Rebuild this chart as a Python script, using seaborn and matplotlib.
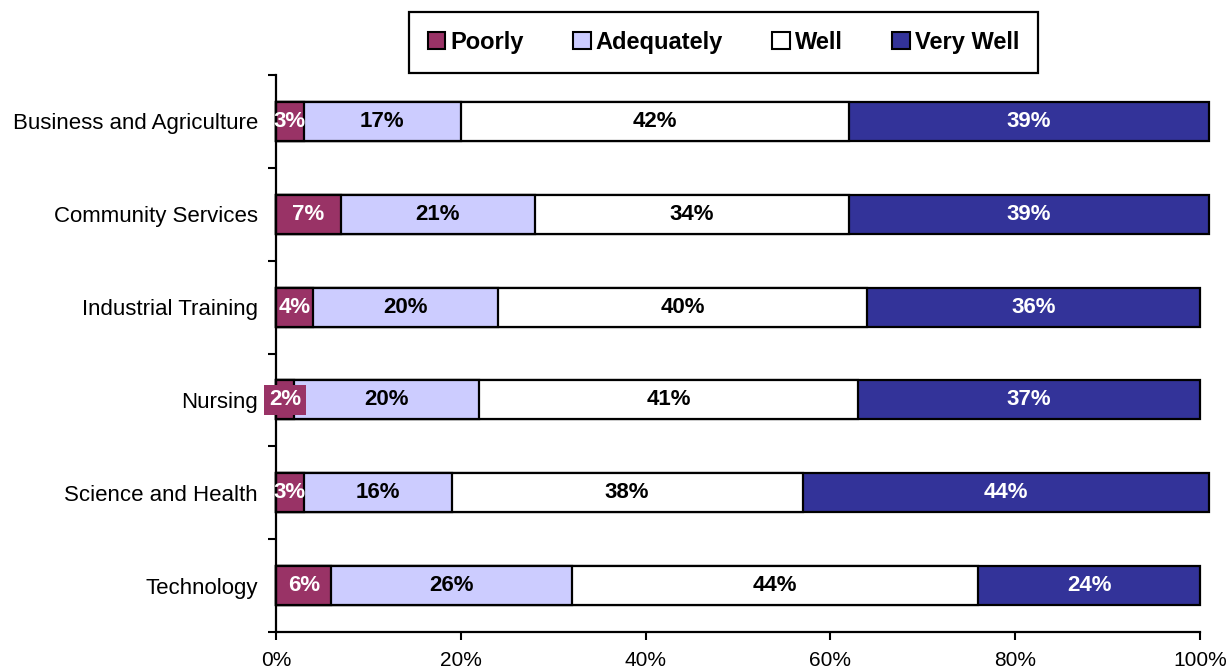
import numpy as np
import pandas as pd
import seaborn as sns
import matplotlib.pyplot as plt
from matplotlib.patches import Patch

sns.set_style("white")
plt.rcParams['font.family'] = ['Liberation Sans', 'DejaVu Sans']
plt.rcParams['text.color'] = 'black'
plt.rcParams['xtick.color'] = 'black'
plt.rcParams['ytick.color'] = 'black'
plt.rcParams['axes.labelcolor'] = 'black'

programs = ['Business and Agriculture', 'Community Services', 'Industrial Training',
            'Nursing', 'Science and Health', 'Technology']
poorly = [3, 7, 4, 2, 3, 6]
adequately = [17, 21, 20, 20, 16, 26]
well = [42, 34, 40, 41, 38, 44]
very_well = [39, 39, 36, 37, 44, 24]

ratings = ['Poorly', 'Adequately', 'Well', 'Very Well']
colors = {'Poorly': '#993366', 'Adequately': '#CCCCFF', 'Well': '#FFFFFF', 'Very Well': '#333399'}
text_colors = {'Poorly': 'white', 'Adequately': 'black', 'Well': 'black', 'Very Well': 'white'}

df = pd.DataFrame({'Program': programs, 'Poorly': poorly, 'Adequately': adequately,
                   'Well': well, 'Very Well': very_well})
cum = df[ratings].cumsum(axis=1)

fig = plt.figure(figsize=(12.31, 6.71), dpi=100)
ax = fig.add_axes([0.2242, 0.0581, 0.7506, 0.8301])

# stacked bars: draw running totals from the longest down, each over the last
for r in reversed(ratings):
    sns.barplot(x=cum[r], y=df['Program'], orient='h', color=colors[r], saturation=1,
                edgecolor='black', linewidth=1.6, width=0.42, ax=ax)
for p in ax.patches:
    p.set_clip_on(False)

# segment labels
for i, prog in enumerate(programs):
    left = 0
    for r in ratings:
        v = df.loc[i, r]
        kw = {}
        if prog == 'Nursing' and r == 'Poorly':
            kw['bbox'] = dict(facecolor=colors[r], edgecolor='none', pad=3.5)
        ax.text(left + v / 2, i, f'{v}%', ha='center', va='center', fontsize=16,
                fontweight='bold', color=text_colors[r], **kw)
        left += v

ax.set_xlim(0, 100)
ax.set_xticks(np.arange(0, 101, 20))
ax.set_xticklabels([f'{t}%' for t in range(0, 101, 20)])
ax.set_yticks(np.arange(-0.5, len(programs), 1), minor=True)
ax.tick_params(axis='y', which='major', length=0, pad=13, labelsize=16)
ax.tick_params(axis='y', which='minor', length=6, width=1.5, color='black', direction='out', left=True)
ax.tick_params(axis='x', which='major', length=6, width=1.5, color='black', direction='out',
               bottom=True, pad=8, labelsize=15)
ax.set_xlabel('')
ax.set_ylabel('')

for s in ['top', 'right']:
    ax.spines[s].set_visible(False)
for s in ['left', 'bottom']:
    ax.spines[s].set_color('black')
    ax.spines[s].set_linewidth(1.6)

handles = [Patch(facecolor=colors[r], edgecolor='black', linewidth=1.5) for r in ratings]
leg = fig.legend(handles, ratings, loc='center', bbox_to_anchor=(0.5877, 0.9367), ncol=4,
                 frameon=True, fancybox=False, edgecolor='black', framealpha=1,
                 prop={'weight': 'bold', 'size': 17}, handlelength=0.75, handleheight=0.75,
                 handletextpad=0.2, columnspacing=2.1, borderpad=0.8)
leg.get_frame().set_linewidth(1.6)

fig.savefig('out.png', dpi=100)
